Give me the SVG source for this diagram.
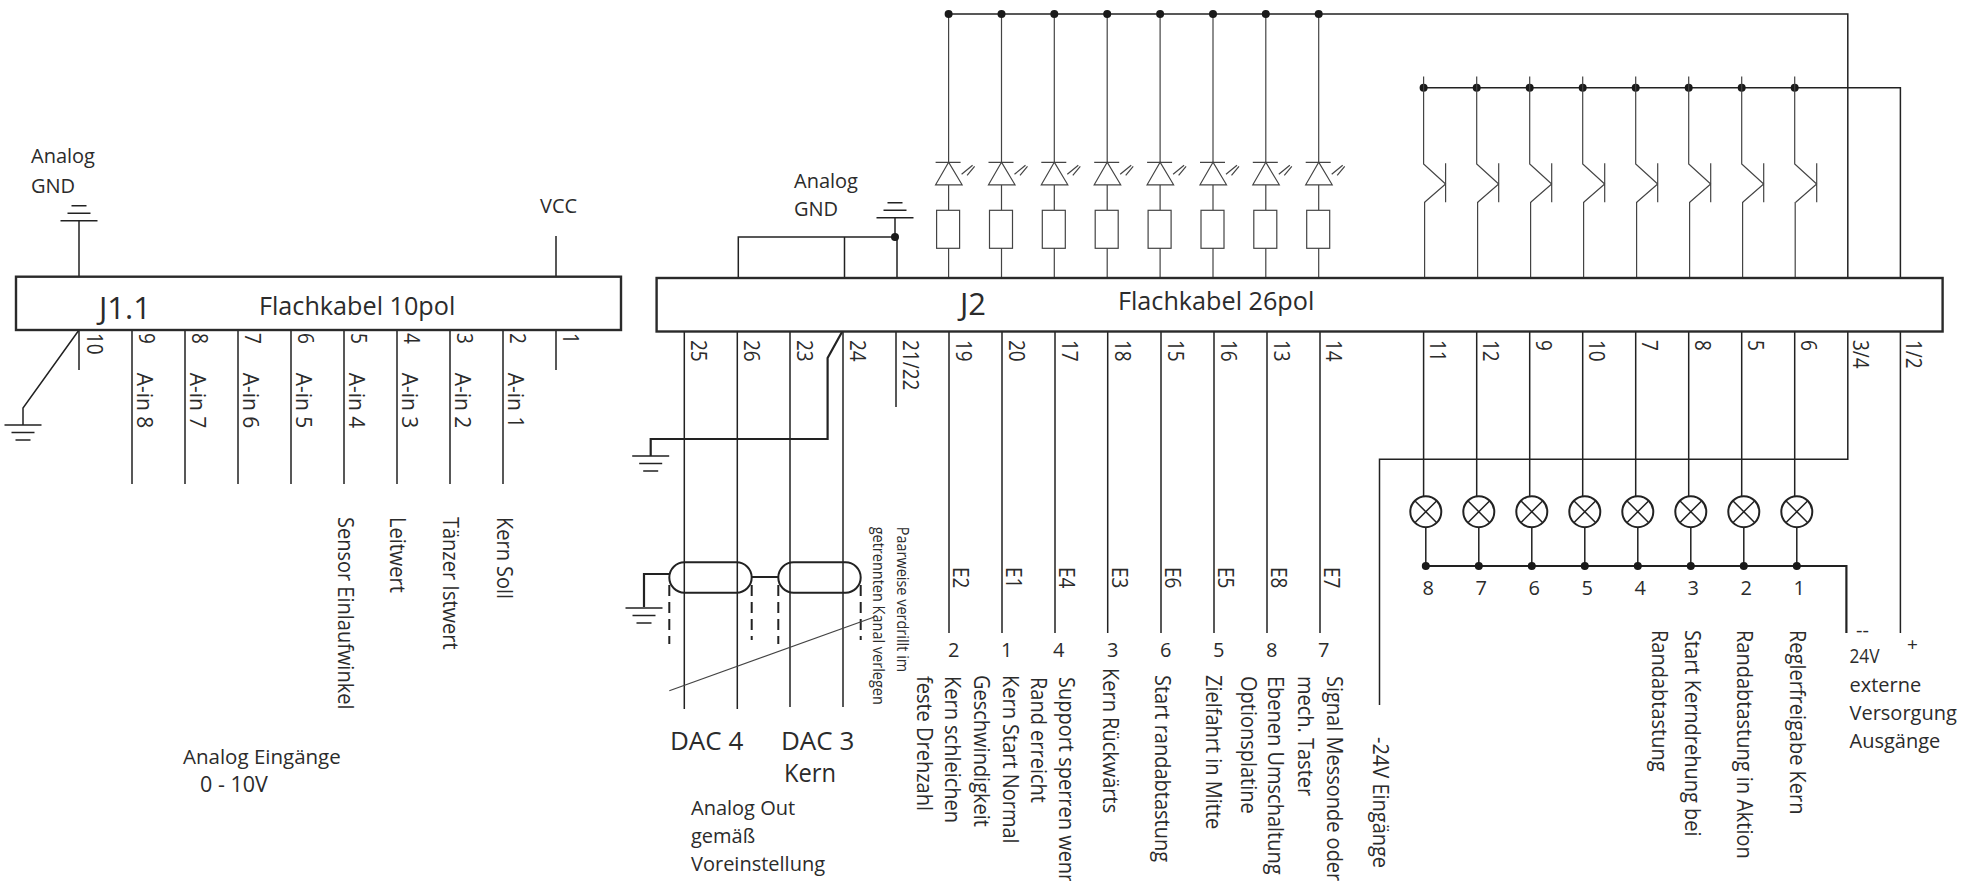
<svg xmlns="http://www.w3.org/2000/svg" xmlns:xlink="http://www.w3.org/1999/xlink" width="1970" height="881" viewBox="0 0 1970 881">
<style>
text{font-family:"Open Sans","Noto Sans","Liberation Sans",sans-serif;font-size:20px;fill:#2b2b2b}
.s{font-size:14.5px}.p{font-size:19px}.a{font-size:21px}.b{font-size:26px}.j{font-size:31px}.f{font-size:25.200px}.e{font-size:20.500px}.z{font-size:21.500px}
.w,.sym{fill:none;stroke:#222;stroke-width:1.5}
.t{fill:none;stroke:#222;stroke-width:2.2}
.box{fill:#fff;stroke:#2a2a2a;stroke-width:2.4}
.th{fill:none;stroke:#444;stroke-width:1.2}
.d{fill:#1a1a1a;stroke:none}
.dash{fill:none;stroke:#222;stroke-width:2;stroke-dasharray:11 6}
</style>
<defs>
<g id="led" class="th"><path d="M-13 0H12M0 0L-13 22.5H13.5Z"/><path d="M13 12L24 3M18.500 13L26 4"/></g>
<rect id="res" x="-12" y="0" width="23" height="38" class="th"/>
<path id="npn" class="th" d="M0 76.500L0 164L22 184L1 202.300M22 163.300V202.300"/>
<g id="lamp"><circle r="15.500" fill="none" stroke="#222" stroke-width="2"/><path d="M-11 -11L11 11M-11 11L11 -11" stroke="#222" stroke-width="1.500"/></g>
<path id="gnd" class="sym" d="M-18.500 0H18.500M-11.500 7.500H11.500M-7.500 15H7.500"/>
<path id="agnd" class="sym" d="M-18.500 0H18.500M-11.500 -7.500H11.500M-7.500 -15H7.500"/>
</defs>

<g id="connectors">
<path class="w" d="M79 220.700V277M556 236V277M79 330V370M556 330V370M132 330V484M185 330V484M238 330V484M291 330V484M344 330V484M397 330V484M450 330V484M503 330V484"/>
<path class="w" d="M79 330L23 408V425"/>
<path class="w" d="M948.600 14H1847.800V278M738.300 278V237H895M844.500 278V237M897 278V237M895 217.700V237"/>
<g class="th"><path d="M948.600 14V163M1001.500 14V163M1054.300 14V163M1107.200 14V163M1160.100 14V163M1213 14V163M1265.800 14V163M1318.700 14V163"/>
<path d="M948.600 185V210M1001.500 185V210M1054.300 185V210M1107.200 185V210M1160.100 185V210M1213 185V210M1265.800 185V210M1318.700 185V210"/>
<path d="M948.600 248V278M1001.500 248V278M1054.300 248V278M1107.200 248V278M1160.100 248V278M1213 248V278M1265.800 248V278M1318.700 248V278"/>
<path d="M1424.600 202V278M1477.600 202V278M1530.600 202V278M1583.600 202V278M1636.600 202V278M1689.600 202V278M1742.600 202V278M1795.200 202V278"/></g>
<path class="w" d="M1423.600 87.700H1900.400V278"/>
<path class="w" d="M684.300 331V709M737.300 331V709M790 331V707M843 331V707M896 331V407M949 331V633M1002 331V633M1055 331V633M1107.700 331V633M1161 331V633M1214 331V633M1267 331V633M1320 331V633"/>
<path class="t" d="M842 332L827.600 358V439H650.700V456"/>
<path class="w" d="M1423.600 331V497M1476.700 331V497M1529.700 331V497M1582.700 331V497M1635.700 331V497M1688.700 331V497M1741.700 331V497M1794.700 331V497"/>
<path class="w" d="M1379.500 705V459.300H1847.800V331M1900.400 331V633"/>
<path class="w" stroke-width="2" d="M1425.800 527V566M1478.800 527V566M1531.800 527V566M1584.800 527V566M1637.800 527V566M1690.800 527V566M1743.800 527V566M1796.800 527V566"/>
<path class="t" d="M1425.800 566H1846.400V633"/>
<path class="t" d="M644 607V574H669.300M751.700 577H778.300"/>
<path class="dash" d="M669.300 585V644M751.700 585V640M778.300 585V644M860.700 585V640"/>
<path class="th" d="M669.300 690.700L875 616.700"/>
</g>

<g id="shield1"><rect x="669.300" y="562.300" width="82.400" height="30.400" rx="15.200" fill="none" stroke="#222" stroke-width="2"/></g>
<g id="shield2"><rect x="778.300" y="562.300" width="82.400" height="30.400" rx="15.200" fill="none" stroke="#222" stroke-width="2"/></g>

<g id="J1"><rect class="box" x="16" y="276.700" width="605" height="53.300"/>
<text class="j" x="99" y="319">J1.1</text><text class="f" x="259" y="315">Flachkabel 10pol</text></g>
<g id="J2"><rect class="box" x="656.600" y="278" width="1286" height="53.500"/>
<text class="j" x="960" y="315">J2</text><text class="f" x="1118" y="310">Flachkabel 26pol</text></g>

<g id="gnd-j1-top"><use href="#agnd" y="220.700" x="79"/><text x="31" y="163">Analog</text><text x="31" y="192.700">GND</text></g>
<g id="vcc"><text x="540" y="212.700">VCC</text></g>
<g id="gnd-j1-bottom"><use href="#gnd" x="23" y="425"/></g>
<g id="gnd-j2-top"><use href="#agnd" x="895" y="217.700"/><text x="794" y="188">Analog</text><text x="794" y="216">GND</text></g>
<g id="gnd-j2-pin24"><use href="#gnd" x="650.700" y="456"/></g>
<g id="gnd-shield"><use href="#gnd" x="644" y="608"/></g>

<g id="dots" class="d">
<circle cx="895" cy="237" r="4"/>
<circle cx="948.600" cy="14" r="4"/><circle cx="1001.500" cy="14" r="4"/><circle cx="1054.300" cy="14" r="4"/><circle cx="1107.200" cy="14" r="4"/><circle cx="1160.100" cy="14" r="4"/><circle cx="1213" cy="14" r="4"/><circle cx="1265.800" cy="14" r="4"/><circle cx="1318.700" cy="14" r="4"/>
<circle cx="1423.600" cy="87.700" r="4"/><circle cx="1476.700" cy="87.700" r="4"/><circle cx="1529.700" cy="87.700" r="4"/><circle cx="1582.700" cy="87.700" r="4"/><circle cx="1635.700" cy="87.700" r="4"/><circle cx="1688.700" cy="87.700" r="4"/><circle cx="1741.700" cy="87.700" r="4"/><circle cx="1794.700" cy="87.700" r="4"/>
<circle cx="1425.800" cy="566" r="4"/><circle cx="1478.800" cy="566" r="4"/><circle cx="1531.800" cy="566" r="4"/><circle cx="1584.800" cy="566" r="4"/><circle cx="1637.800" cy="566" r="4"/><circle cx="1690.800" cy="566" r="4"/><circle cx="1743.800" cy="566" r="4"/><circle cx="1796.800" cy="566" r="4"/>
</g>

<g id="led1"><use href="#led" x="948.600" y="162.300"/><use href="#res" x="948.600" y="210.300"/></g>
<g id="led2"><use href="#led" x="1001.500" y="162.300"/><use href="#res" x="1001.500" y="210.300"/></g>
<g id="led3"><use href="#led" x="1054.300" y="162.300"/><use href="#res" x="1054.300" y="210.300"/></g>
<g id="led4"><use href="#led" x="1107.200" y="162.300"/><use href="#res" x="1107.200" y="210.300"/></g>
<g id="led5"><use href="#led" x="1160.100" y="162.300"/><use href="#res" x="1160.100" y="210.300"/></g>
<g id="led6"><use href="#led" x="1213" y="162.300"/><use href="#res" x="1213" y="210.300"/></g>
<g id="led7"><use href="#led" x="1265.800" y="162.300"/><use href="#res" x="1265.800" y="210.300"/></g>
<g id="led8"><use href="#led" x="1318.700" y="162.300"/><use href="#res" x="1318.700" y="210.300"/></g>

<g id="tr1"><use href="#npn" x="1423.600"/></g>
<g id="tr2"><use href="#npn" x="1476.700"/></g>
<g id="tr3"><use href="#npn" x="1529.700"/></g>
<g id="tr4"><use href="#npn" x="1582.700"/></g>
<g id="tr5"><use href="#npn" x="1635.700"/></g>
<g id="tr6"><use href="#npn" x="1688.700"/></g>
<g id="tr7"><use href="#npn" x="1741.700"/></g>
<g id="tr8"><use href="#npn" x="1794.700"/></g>

<g id="lamp1"><use href="#lamp" x="1425.800" y="511.700"/><text x="1422.500" y="595">8</text></g>
<g id="lamp2"><use href="#lamp" x="1478.800" y="511.700"/><text x="1475.500" y="595">7</text></g>
<g id="lamp3"><use href="#lamp" x="1531.800" y="511.700"/><text x="1528.500" y="595">6</text></g>
<g id="lamp4"><use href="#lamp" x="1584.800" y="511.700"/><text x="1581.500" y="595">5</text></g>
<g id="lamp5"><use href="#lamp" x="1637.800" y="511.700"/><text x="1634.500" y="595">4</text></g>
<g id="lamp6"><use href="#lamp" x="1690.800" y="511.700"/><text x="1687.500" y="595">3</text></g>
<g id="lamp7"><use href="#lamp" x="1743.800" y="511.700"/><text x="1740.500" y="595">2</text></g>
<g id="lamp8"><use href="#lamp" x="1796.800" y="511.700"/><text x="1793.500" y="595">1</text></g>

<g id="labels-j1">
<text class="p" transform="translate(87 333) rotate(90) scale(1 1.12)">10</text>
<text class="p" transform="translate(139 333) rotate(90) scale(1 1.12)">9</text>
<text class="p" transform="translate(192 333) rotate(90) scale(1 1.12)">8</text>
<text class="p" transform="translate(245 333) rotate(90) scale(1 1.12)">7</text>
<text class="p" transform="translate(298 333) rotate(90) scale(1 1.12)">6</text>
<text class="p" transform="translate(351 333) rotate(90) scale(1 1.12)">5</text>
<text class="p" transform="translate(404 333) rotate(90) scale(1 1.12)">4</text>
<text class="p" transform="translate(457 333) rotate(90) scale(1 1.12)">3</text>
<text class="p" transform="translate(510 333) rotate(90) scale(1 1.12)">2</text>
<text class="p" transform="translate(563 333) rotate(90) scale(1 1.12)">1</text>
<text class="a" transform="translate(137 372.700) rotate(90) scale(1 1.08)">A-in 8</text>
<text class="a" transform="translate(190 372.700) rotate(90) scale(1 1.08)">A-in 7</text>
<text class="a" transform="translate(243 372.700) rotate(90) scale(1 1.08)">A-in 6</text>
<text class="a" transform="translate(296 372.700) rotate(90) scale(1 1.08)">A-in 5</text>
<text class="a" transform="translate(349 372.700) rotate(90) scale(1 1.08)">A-in 4</text>
<text class="a" transform="translate(402 372.700) rotate(90) scale(1 1.08)">A-in 3</text>
<text class="a" transform="translate(455 372.700) rotate(90) scale(1 1.08)">A-in 2</text>
<text class="a" transform="translate(508 372.700) rotate(90) scale(1 1.08)">A-in 1</text>
<text transform="translate(337.500 517) rotate(90) scale(1 1.12)">Sensor Einlaufwinkel</text>
<text transform="translate(390 517) rotate(90) scale(1 1.12)">Leitwert</text>
<text transform="translate(443 517) rotate(90) scale(1 1.12)">Tänzer Istwert</text>
<text transform="translate(496.500 517) rotate(90) scale(1 1.12)">Kern Soll</text>
<text class="e" x="183" y="763.500">Analog Eingänge</text>
<text class="z" x="200" y="791.500">0 - 10V</text>
</g>

<g id="labels-j2">
<text class="p" transform="translate(691 340) rotate(90) scale(1 1.12)">25</text>
<text class="p" transform="translate(744 340) rotate(90) scale(1 1.12)">26</text>
<text class="p" transform="translate(797 340) rotate(90) scale(1 1.12)">23</text>
<text class="p" transform="translate(850 340) rotate(90) scale(1 1.12)">24</text>
<text class="p" transform="translate(903 340) rotate(90) scale(1 1.12)">21/22</text>
<text class="p" transform="translate(956 340) rotate(90) scale(1 1.12)">19</text>
<text class="p" transform="translate(1009 340) rotate(90) scale(1 1.12)">20</text>
<text class="p" transform="translate(1062 340) rotate(90) scale(1 1.12)">17</text>
<text class="p" transform="translate(1115 340) rotate(90) scale(1 1.12)">18</text>
<text class="p" transform="translate(1168 340) rotate(90) scale(1 1.12)">15</text>
<text class="p" transform="translate(1221 340) rotate(90) scale(1 1.12)">16</text>
<text class="p" transform="translate(1274 340) rotate(90) scale(1 1.12)">13</text>
<text class="p" transform="translate(1326 340) rotate(90) scale(1 1.12)">14</text>
<text class="p" transform="translate(1430 340) rotate(90) scale(1 1.12)">11</text>
<text class="p" transform="translate(1483 340) rotate(90) scale(1 1.12)">12</text>
<text class="p" transform="translate(1536 340) rotate(90) scale(1 1.12)">9</text>
<text class="p" transform="translate(1589 340) rotate(90) scale(1 1.12)">10</text>
<text class="p" transform="translate(1642 340) rotate(90) scale(1 1.12)">7</text>
<text class="p" transform="translate(1695 340) rotate(90) scale(1 1.12)">8</text>
<text class="p" transform="translate(1748 340) rotate(90) scale(1 1.12)">5</text>
<text class="p" transform="translate(1801 340) rotate(90) scale(1 1.12)">6</text>
<text class="p" transform="translate(1853 340) rotate(90) scale(1 1.12)">3/4</text>
<text class="p" transform="translate(1906 340) rotate(90) scale(1 1.12)">1/2</text>
<text class="p" transform="translate(953 567) rotate(90) scale(1 1.12)">E2</text>
<text class="p" transform="translate(1006 567) rotate(90) scale(1 1.12)">E1</text>
<text class="p" transform="translate(1059 567) rotate(90) scale(1 1.12)">E4</text>
<text class="p" transform="translate(1112 567) rotate(90) scale(1 1.12)">E3</text>
<text class="p" transform="translate(1165 567) rotate(90) scale(1 1.12)">E6</text>
<text class="p" transform="translate(1218 567) rotate(90) scale(1 1.12)">E5</text>
<text class="p" transform="translate(1271 567) rotate(90) scale(1 1.12)">E8</text>
<text class="p" transform="translate(1324 567) rotate(90) scale(1 1.12)">E7</text>
<text x="948" y="657">2</text><text x="1001" y="657">1</text><text x="1053" y="657">4</text><text x="1107" y="657">3</text><text x="1160" y="657">6</text><text x="1213" y="657">5</text><text x="1266" y="657">8</text><text x="1318" y="657">7</text>
<text transform="translate(945 676) rotate(90) scale(1 1.12)">Kern schleichen</text>
<text transform="translate(917 676) rotate(90) scale(1 1.12)">feste Drehzahl</text>
<text transform="translate(1003 675) rotate(90) scale(1 1.12)">Kern Start Normal</text>
<text transform="translate(974 675) rotate(90) scale(1 1.12)">Geschwindigkeit</text>
<text transform="translate(1059 677) rotate(90) scale(1 1.12)">Support sperren wenn</text>
<text transform="translate(1031 677) rotate(90) scale(1 1.12)">Rand erreicht</text>
<text transform="translate(1103 668) rotate(90) scale(1 1.12)">Kern Rückwärts</text>
<text transform="translate(1155 675) rotate(90) scale(1 1.12)">Start randabtastung</text>
<text transform="translate(1206 675) rotate(90) scale(1 1.12)">Zielfahrt in Mitte</text>
<text transform="translate(1268 676) rotate(90) scale(1 1.12)">Ebenen Umschaltung</text>
<text transform="translate(1241 676) rotate(90) scale(1 1.12)">Optionsplatine</text>
<text transform="translate(1327 676) rotate(90) scale(1 1.12)">Signal Messonde oder</text>
<text transform="translate(1298 676) rotate(90) scale(1 1.12)">mech. Taster</text>
<text transform="translate(1373 737) rotate(90) scale(1 1.12)">-24V Eingänge</text>
<text transform="translate(1790 630) rotate(90) scale(1 1.12)">Reglerfreigabe Kern</text>
<text transform="translate(1737 630) rotate(90) scale(1 1.12)">Randabtastung in Aktion</text>
<text transform="translate(1685 630) rotate(90) scale(1 1.12)">Start Kerndrehung bei</text>
<text transform="translate(1652 630) rotate(90) scale(1 1.12)">Randabtastung</text>
<text x="1856" y="637">--</text>
<text x="1849.500" y="662.700" textLength="30" lengthAdjust="spacingAndGlyphs">24V</text>
<text x="1907" y="651" class="p">+</text>
<text x="1849.500" y="691.700">externe</text>
<text x="1849.500" y="720">Versorgung</text>
<text x="1849.500" y="748">Ausgänge</text>
<text class="s" transform="translate(897 526.700) rotate(90) scale(1 1.12)">Paarweise verdrillt im</text>
<text class="s" transform="translate(873 526.700) rotate(90) scale(1 1.12)">getrennten Kanal verlegen</text>
<text class="b" x="670" y="750">DAC 4</text>
<text class="b" x="781" y="750">DAC 3</text>
<text class="b" x="784" y="781.700" textLength="52" lengthAdjust="spacingAndGlyphs">Kern</text>
<text x="691" y="815">Analog Out</text>
<text x="691" y="842.700">gemäß</text>
<text x="691" y="870.700">Voreinstellung</text>
</g>
</svg>
